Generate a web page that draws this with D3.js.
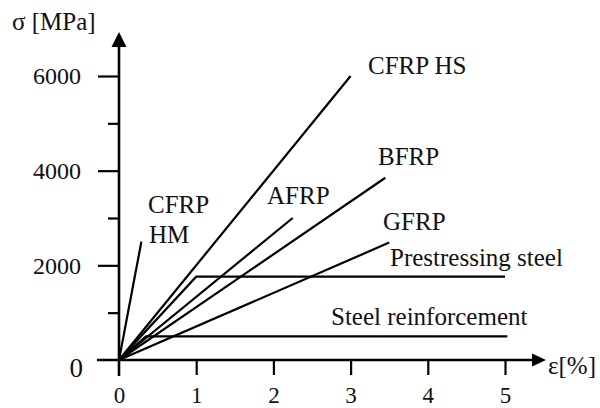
<!DOCTYPE html>
<html><head><meta charset="utf-8">
<script src="https://cdn.jsdelivr.net/npm/d3@7/dist/d3.min.js"></script>
<style>
html,body{margin:0;padding:0;background:#fff;}
svg{display:block;}
text{font-family:"Liberation Serif","Times New Roman",serif;fill:#111;}
</style></head>
<body><svg id="c" width="600" height="408"></svg>
<script>
// ---- data ----
const materials = ["CFRP HM","CFRP HS","AFRP","BFRP","GFRP","Prestressing steel","Steel reinforcement"];
const strainPts = [[0,0.29],[0,3.0],[0,2.25],[0,3.45],[0,3.5],[0,1.0,5.0],[0,0.35,5.03]];
const stressPts = [[0,2500],[0,6000],[0,3000],[0,3850],[0,2480],[0,1760,1760],[0,500,500]];
const xTicks = [0,1,2,3,4,5];
const yMajor = [0,2000,4000,6000];
const yMinor = [1000,3000,5000];

// ---- layout (pixels) ----
const labelPos = {
  "CFRP HM":[[148,213,"CFRP"],[149,243,"HM"]],
  "CFRP HS":[[368,74,"CFRP HS"]],
  "AFRP":[[267,204,"AFRP"]],
  "BFRP":[[378,165,"BFRP"]],
  "GFRP":[[383,230,"GFRP"]],
  "Prestressing steel":[[390,266,"Prestressing steel"]],
  "Steel reinforcement":[[331,325,"Steel reinforcement"]]
};

const svg = d3.select("#c");
const x = d3.scaleLinear().domain([0,5]).range([119,505]);
const y = d3.scaleLinear().domain([0,6000]).range([360,76]);

// axes lines
const ax = svg.append("g").attr("stroke","#000").attr("stroke-width",2.6);
ax.append("line").attr("x1",97).attr("x2",534).attr("y1",y(0)).attr("y2",y(0));
ax.append("line").attr("x1",x(0)).attr("x2",x(0)).attr("y1",376).attr("y2",45);
svg.append("path").attr("d",`M${x(0)},32 L${x(0)-7.5},47 L${x(0)+7.5},47 Z`).attr("fill","#000");
svg.append("path").attr("d",`M546,${y(0)} L532,${y(0)-6.5} L532,${y(0)+6.5} Z`).attr("fill","#000");

// y ticks
const yAxis = d3.axisLeft(y).tickValues(yMajor.filter(d=>d>0)).tickSize(21).tickSizeOuter(0).tickPadding(17)
  .tickFormat(d3.format("d"));
const gy = svg.append("g").attr("transform",`translate(${x(0)},0)`).call(yAxis);
gy.select(".domain").remove();
gy.selectAll(".tick line").attr("stroke","#000").attr("stroke-width",2.2);
gy.selectAll(".tick text").attr("font-size",24).attr("font-family","Liberation Serif").attr("fill","#111");
const yAxisMinor = d3.axisLeft(y).tickValues(yMinor).tickSize(11).tickFormat("");
const gym = svg.append("g").attr("transform",`translate(${x(0)},0)`).call(yAxisMinor);
gym.select(".domain").remove();
gym.selectAll(".tick line").attr("stroke","#000").attr("stroke-width",2.2);
// big zero
svg.append("text").attr("x",83).attr("y",377).attr("text-anchor","end").attr("font-size",27).text(yMajor[0]);

// x ticks
const xAxis = d3.axisBottom(x).tickValues(xTicks).tickSize(15).tickSizeOuter(0).tickPadding(12).tickFormat(d3.format("d"));
const gx = svg.append("g").attr("transform",`translate(0,${y(0)})`).call(xAxis);
gx.select(".domain").remove();
gx.selectAll(".tick line").attr("stroke","#000").attr("stroke-width",2.2).attr("opacity",(d)=>d===0?0:1);
gx.selectAll(".tick text").attr("font-size",23).attr("font-family","Liberation Serif").attr("fill","#111");

// axis titles
svg.append("text").attr("x",12).attr("y",30).attr("font-size",25).text("σ [MPa]");
svg.append("text").attr("x",548).attr("y",374).attr("font-size",25).text("ε[%]");

// curves
const line = d3.line().x(d=>x(d[0])).y(d=>y(d[1]));
materials.forEach((m,i)=>{
  const pts = strainPts[i].map((e,j)=>[e,stressPts[i][j]]);
  svg.append("path").attr("d",line(pts)).attr("fill","none").attr("stroke","#000").attr("stroke-width",2.2);
  labelPos[m].forEach(([lx,ly,t])=>{
    svg.append("text").attr("x",lx).attr("y",ly).attr("font-size",25).text(t);
  });
});
</script></body></html>
